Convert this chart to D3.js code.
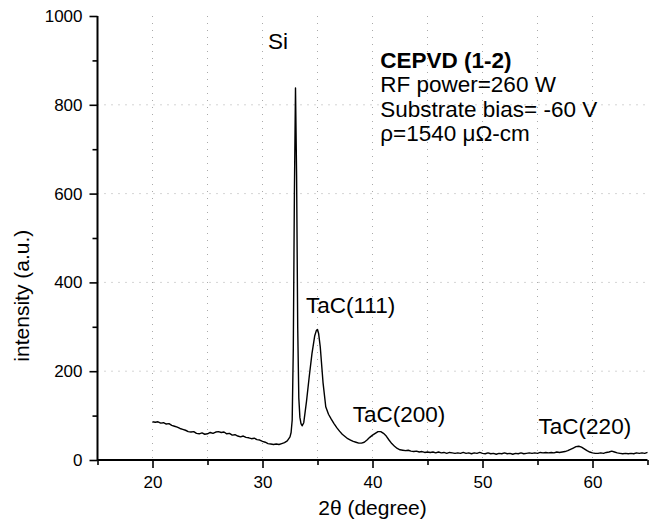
<!DOCTYPE html>
<html>
<head>
<meta charset="utf-8">
<script src="https://cdn.jsdelivr.net/npm/d3@7"></script>
<style>
  html, body { margin: 0; padding: 0; background: #fff; overflow: hidden; }
  svg { display: block; font-family: "Liberation Sans", Arial, sans-serif; }
</style>
</head>
<body>
<div id="chart"></div>
<script>
// XRD scan
const twoTheta = [
  20.0, 20.25, 20.5, 20.75, 21.0, 21.25, 21.5, 21.75, 22.0, 22.25, 22.5, 22.75,
  23.0, 23.25, 23.5, 23.75, 24.0, 24.25, 24.5, 24.75, 25.0, 25.25, 25.5, 25.75,
  26.0, 26.25, 26.5, 26.75, 27.0, 27.25, 27.5, 27.75, 28.0, 28.25, 28.5, 28.75,
  29.0, 29.25, 29.5, 29.75, 30.0, 30.25, 30.5, 30.75, 31.0, 31.25, 31.5, 31.75,
  32.0, 32.25, 32.5, 32.6, 32.7, 32.8, 32.9, 33.0, 33.1, 33.2, 33.3, 33.4,
  33.5, 33.6, 33.75, 34.0, 34.25, 34.5, 34.75, 34.9, 35.0, 35.1, 35.25, 35.5,
  35.75, 36.0, 36.25, 36.5, 36.75, 37.0, 37.25, 37.5, 37.75, 38.0, 38.25, 38.5,
  38.75, 39.0, 39.25, 39.5, 39.75, 40.0, 40.25, 40.5, 40.75, 41.0, 41.25, 41.5,
  41.75, 42.0, 42.25, 42.5, 42.75, 43.0, 43.25, 43.5, 43.75, 44.0, 44.25, 44.5,
  44.75, 45.0, 45.25, 45.5, 45.75, 46.0, 46.25, 46.5, 46.75, 47.0, 47.25, 47.5,
  47.75, 48.0, 48.25, 48.5, 48.75, 49.0, 49.25, 49.5, 49.75, 50.0, 50.25, 50.5,
  50.75, 51.0, 51.25, 51.5, 51.75, 52.0, 52.25, 52.5, 52.75, 53.0, 53.25, 53.5,
  53.75, 54.0, 54.25, 54.5, 54.75, 55.0, 55.25, 55.5, 55.75, 56.0, 56.25, 56.5,
  56.75, 57.0, 57.25, 57.5, 57.75, 58.0, 58.25, 58.5, 58.75, 59.0, 59.25, 59.5,
  59.75, 60.0, 60.25, 60.5, 60.75, 61.0, 61.25, 61.5, 61.75, 62.0, 62.25, 62.5,
  62.75, 63.0, 63.25, 63.5, 63.75, 64.0, 64.25, 64.5, 64.75, 65.0
];
const intensity = [
  86, 85, 86, 83, 84, 81, 82, 78, 76, 74, 71, 69,
  67, 64, 63, 64, 60, 59, 61, 58, 59, 62, 60, 63,
  64, 62, 63, 59, 60, 56, 57, 54, 52, 54, 51, 50,
  48, 49, 46, 45, 42, 40, 37, 36, 35, 36, 35, 37,
  39, 43, 52, 62, 90, 250, 600, 838, 640, 300, 140, 96,
  82, 77, 84, 132, 188, 240, 280, 292, 294, 285, 255, 175,
  120, 103, 92, 82, 73, 65, 58, 53, 48, 45, 42, 40,
  38, 38, 40, 45, 51, 56, 60, 64, 64, 60, 54, 45,
  37, 31, 26, 23, 22, 21, 22, 20, 19, 20, 18, 19,
  17, 18, 17, 18, 16, 18, 16, 17, 15, 17, 16, 15,
  16, 15, 17, 15, 16, 14, 16, 15, 17, 15, 14, 16,
  14, 15, 13, 15, 14, 16, 14, 15, 13, 15, 14, 16,
  14, 15, 16, 15, 16, 15, 17, 16, 17, 16, 17, 16,
  18, 17, 18, 19, 21, 24, 27, 30, 31, 29, 25, 21,
  18, 16, 15, 15, 16, 15, 17, 18, 20, 18, 16, 15,
  14, 15, 14, 15, 14, 16, 15, 16, 15, 17
];

const xTicks = [20, 30, 40, 50, 60];
const xMinorTicks = [15, 25, 35, 45, 55, 65];
const yTicks = [0, 200, 400, 600, 800, 1000];
const yMinorTicks = [100, 300, 500, 700, 900];
const xGrid = [20, 25, 30, 35, 40, 45, 50, 55, 60];
const yGrid = [200, 400, 600, 800];

// peak names, anchored in data units (2theta, intensity)
const peakNames = ["Si", "TaC(111)", "TaC(200)", "TaC(220)"];
const peakAt = [[30.5, 925], [33.95, 331], [38.2, 86], [55.1, 59]];

const noteLines = ["CEPVD (1-2)", "RF power=260 W", "Substrate bias= -60 V", "\u03c1=1540 \u03bc\u03a9-cm"];

const width = 652, height = 529;
const margin = { top: 16, right: 4.5, bottom: 69, left: 97.5 };
const innerWidth = width - margin.left - margin.right;
const innerHeight = height - margin.top - margin.bottom;

const x = d3.scaleLinear().domain([15, 65]).range([0, innerWidth]);
const y = d3.scaleLinear().domain([0, 1000]).range([innerHeight, 0]);

const svg = d3.select("#chart").append("svg")
  .attr("width", width)
  .attr("height", height);

const g = svg.append("g")
  .attr("transform", `translate(${margin.left},${margin.top})`);

// faint dotted grid
g.append("g").selectAll("line").data(xGrid).join("line")
  .attr("x1", d => x(d)).attr("x2", d => x(d))
  .attr("y1", 0).attr("y2", innerHeight)
  .attr("stroke", "#aaa").attr("stroke-width", 1)
  .attr("stroke-dasharray", "1,6");
g.append("g").selectAll("line").data(yGrid).join("line")
  .attr("x1", 0).attr("x2", innerWidth)
  .attr("y1", d => y(d)).attr("y2", d => y(d))
  .attr("stroke", "#aaa").attr("stroke-width", 1)
  .attr("stroke-dasharray", "1,6");

// axes: major ticks with labels, minor ticks without
g.append("g")
  .attr("transform", `translate(0,${innerHeight})`)
  .call(d3.axisBottom(x).tickValues(xTicks).tickSize(8).tickPadding(8).tickFormat(d3.format("d")));
g.append("g")
  .attr("transform", `translate(0,${innerHeight})`)
  .call(d3.axisBottom(x).tickValues(xMinorTicks).tickSize(5).tickFormat(""));
g.append("g")
  .call(d3.axisLeft(y).tickValues(yTicks).tickSize(8).tickPadding(7).tickFormat(d3.format("d")));
g.append("g")
  .call(d3.axisLeft(y).tickValues(yMinorTicks).tickSize(5).tickFormat(""));

g.selectAll(".domain").remove();
g.selectAll(".tick line").attr("stroke", "#000").attr("stroke-width", 1.6);
g.selectAll(".tick text").attr("fill", "#000").style("font-size", "17px")
  .style("font-family", "'Liberation Sans', Arial, sans-serif");

// plain axis lines
g.append("line").attr("x1", 0).attr("x2", 0).attr("y1", y(1000)).attr("y2", innerHeight)
  .attr("stroke", "#000").attr("stroke-width", 2);
g.append("line").attr("x1", 0).attr("x2", innerWidth).attr("y1", innerHeight).attr("y2", innerHeight)
  .attr("stroke", "#000").attr("stroke-width", 2);

// scan line
const points = twoTheta.map((t, i) => [t, intensity[i]]);
const valueline = d3.line()
  .x(d => x(d[0]))
  .y(d => y(d[1]));
g.append("path")
  .datum(points)
  .attr("fill", "none")
  .attr("stroke", "#000")
  .attr("stroke-width", 1.4)
  .attr("stroke-linejoin", "round")
  .attr("d", valueline);

// peak names
g.append("g").selectAll("text").data(peakNames).join("text")
  .attr("x", (d, i) => x(peakAt[i][0]))
  .attr("y", (d, i) => y(peakAt[i][1]))
  .style("font-size", "22.5px")
  .text(d => d);

// sample note
const note = g.append("text")
  .attr("x", x(40.7))
  .attr("y", y(883))
  .style("font-size", "22.5px");
note.selectAll("tspan").data(noteLines).join("tspan")
  .attr("x", x(40.7))
  .attr("dy", (d, i) => i === 0 ? 0 : 24.5)
  .style("font-weight", (d, i) => i === 0 ? "bold" : "normal")
  .text(d => d);

// axis titles
svg.append("text")
  .attr("x", margin.left + x(40))
  .attr("y", 515)
  .attr("text-anchor", "middle")
  .style("font-size", "21px")
  .text("2\u03b8 (degree)");
svg.append("text")
  .attr("transform", `translate(29,${margin.top + y(370)}) rotate(-90)`)
  .attr("text-anchor", "middle")
  .style("font-size", "21px")
  .text("intensity (a.u.)");
</script>
</body>
</html>
